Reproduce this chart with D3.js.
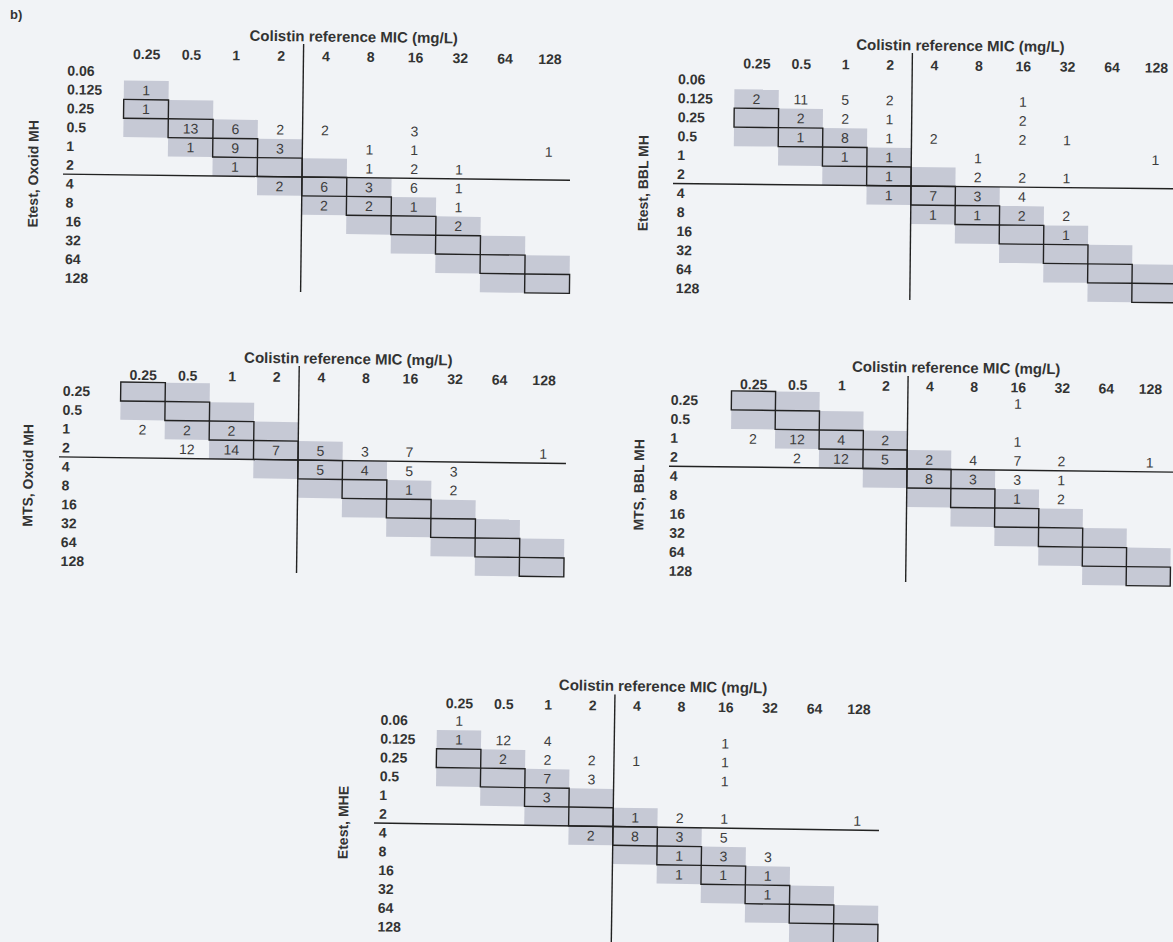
<!DOCTYPE html>
<html><head><meta charset="utf-8">
<script src="https://cdn.jsdelivr.net/npm/d3@7"></script>
<style>
html,body{margin:0;padding:0;background:#f1f3f6;}
svg{display:block;}
text{font-family:"Liberation Sans",Arial,Helvetica,sans-serif;}
</style></head><body>
<svg id="chart" width="1173" height="942"></svg>
<script>
// ---------- data ----------
const colLabels = ["0.25","0.5","1","2","4","8","16","32","64","128"];
const etestRows = ["0.06","0.125","0.25","0.5","1","2","4","8","16","32","64","128"];
const mtsRows   = ["0.25","0.5","1","2","4","8","16","32","64","128"];
const xTitle = "Colistin reference MIC (mg/L)";
const figureLabel = "b)";
const panelTitles = ["Etest, Oxoid MH","Etest, BBL MH","MTS, Oxoid MH","MTS, BBL MH","Etest, MHE"];

// [test MIC (row), reference MIC (column), number of isolates]
const etestOxoidMH = [
 ["0.125","0.25",1],["0.25","0.25",1],
 ["0.5","0.5",13],["0.5","1",6],["0.5","2",2],["0.5","4",2],["0.5","16",3],
 ["1","0.5",1],["1","1",9],["1","2",3],["1","8",1],["1","16",1],["1","128",1],
 ["2","1",1],["2","8",1],["2","16",2],["2","32",1],
 ["4","2",2],["4","4",6],["4","8",3],["4","16",6],["4","32",1],
 ["8","4",2],["8","8",2],["8","16",1],["8","32",1],
 ["16","32",2]
];
const etestBBLMH = [
 ["0.125","0.25",2],["0.125","0.5",11],["0.125","1",5],["0.125","2",2],["0.125","16",1],
 ["0.25","0.5",2],["0.25","1",2],["0.25","2",1],["0.25","16",2],
 ["0.5","0.5",1],["0.5","1",8],["0.5","2",1],["0.5","4",2],["0.5","16",2],["0.5","32",1],
 ["1","1",1],["1","2",1],["1","8",1],["1","128",1],
 ["2","2",1],["2","8",2],["2","16",2],["2","32",1],
 ["4","2",1],["4","4",7],["4","8",3],["4","16",4],
 ["8","4",1],["8","8",1],["8","16",2],["8","32",2],
 ["16","32",1]
];
const mtsOxoidMH = [
 ["1","0.25",2],["1","0.5",2],["1","1",2],
 ["2","0.5",12],["2","1",14],["2","2",7],["2","4",5],["2","8",3],["2","16",7],["2","128",1],
 ["4","4",5],["4","8",4],["4","16",5],["4","32",3],
 ["8","16",1],["8","32",2]
];
const mtsBBLMH = [
 ["0.25","16",1],
 ["1","0.25",2],["1","0.5",12],["1","1",4],["1","2",2],["1","16",1],
 ["2","0.5",2],["2","1",12],["2","2",5],["2","4",2],["2","8",4],["2","16",7],["2","32",2],["2","128",1],
 ["4","4",8],["4","8",3],["4","16",3],["4","32",1],
 ["8","16",1],["8","32",2]
];
const etestMHE = [
 ["0.06","0.25",1],
 ["0.125","0.25",1],["0.125","0.5",12],["0.125","1",4],["0.125","16",1],
 ["0.25","0.5",2],["0.25","1",2],["0.25","2",2],["0.25","4",1],["0.25","16",1],
 ["0.5","1",7],["0.5","2",3],["0.5","16",1],
 ["1","1",3],
 ["2","4",1],["2","8",2],["2","16",1],["2","128",1],
 ["4","2",2],["4","4",8],["4","8",3],["4","16",5],
 ["8","8",1],["8","16",3],["8","32",3],
 ["16","8",1],["16","16",1],["16","32",1],
 ["32","32",1]
];

// ---------- layout ----------
const layout = [
 {rows:etestRows, data:etestOxoidMH, ox:302, oy:177,   w:44.8,  h:18.85, rot:0.7,  tDx:50, tDy:-141, cDy:-121, rDx:-236, vT:-133, vB:115, hL:-239, hR:268, yDx:-269},
 {rows:etestRows, data:etestBBLMH,   ox:911, oy:186,   w:44.4,  h:19.0,  rot:0.6,  tDx:48, tDy:-141, cDy:-121, rDx:-234, vT:-133, vB:114, hL:-238, hR:300, yDx:-268},
 {rows:mtsRows,   data:mtsOxoidMH,   ox:298, oy:460,   w:44.55, h:18.9,  rot:0.75, tDx:49, tDy:-102, cDy:-83,  rDx:-236, vT:-94,  vB:113, hL:-239, hR:268, yDx:-270},
 {rows:mtsRows,   data:mtsBBLMH,     ox:907, oy:469,   w:44.1,  h:19.0,  rot:0.68, tDx:48, tDy:-102, cDy:-83,  rDx:-237, vT:-93,  vB:113, hL:-238, hR:300, yDx:-268},
 {rows:etestRows, data:etestMHE,     ox:613, oy:826.5, w:44.4,  h:18.8,  rot:0.85, tDx:48, tDy:-141, cDy:-121, rDx:-234, vT:-132, vB:140, hL:-239, hR:266, yDx:-270}
];

const SHADE = "#c6c9d5", INK = "#222", LABEL = "#333", CELLTXT = "#3c3c3c";

const svg = d3.select("#chart");
svg.append("rect").attr("width",1173).attr("height",942).attr("fill","#f1f3f6");

svg.append("text").attr("x",10).attr("y",19)
  .attr("font-size",13).attr("font-weight","bold").attr("fill",LABEL)
  .text(figureLabel);

layout.forEach((p, pi) => {
  const g = svg.append("g")
    .attr("transform", `translate(${p.ox},${p.oy}) rotate(${p.rot})`);

  const split = p.rows.indexOf("4");
  const x = d3.scaleBand().domain(colLabels).range([-4*p.w, 6*p.w]);
  const y = d3.scaleBand().domain(p.rows).range([-split*p.h, (p.rows.length-split)*p.h]);

  // essential agreement shading (+/- one dilution)
  const shade = [];
  colLabels.forEach(c => {
    const r = p.rows.indexOf(c);
    if (r < 0) return;
    [r-1, r, r+1].forEach(k => { if (k >= 0 && k < p.rows.length) shade.push([p.rows[k], c]); });
  });
  g.selectAll("rect.shade").data(shade).join("rect").attr("class","shade")
    .attr("x", d => x(d[1])).attr("y", d => y(d[0]))
    .attr("width", x.bandwidth()).attr("height", y.bandwidth())
    .attr("fill", SHADE);

  // breakpoint lines
  g.append("line").attr("x1",0).attr("x2",0).attr("y1",p.vT).attr("y2",p.vB)
    .attr("stroke",INK).attr("stroke-width",1.4);
  g.append("line").attr("x1",p.hL).attr("x2",p.hR).attr("y1",0).attr("y2",0)
    .attr("stroke",INK).attr("stroke-width",1.4);

  // exact agreement boxes
  const diag = colLabels.filter(c => p.rows.includes(c));
  g.selectAll("rect.diag").data(diag).join("rect").attr("class","diag")
    .attr("x", d => x(d)).attr("y", d => y(d))
    .attr("width", x.bandwidth()).attr("height", y.bandwidth())
    .attr("fill","none").attr("stroke",INK).attr("stroke-width",1.4);

  // counts
  g.selectAll("text.cnt").data(p.data).join("text").attr("class","cnt")
    .attr("x", d => x(d[1]) + x.bandwidth()/2)
    .attr("y", d => y(d[0]) + y.bandwidth()/2)
    .attr("dy","0.36em").attr("text-anchor","middle")
    .attr("font-size",14).attr("fill",CELLTXT)
    .text(d => d[2]);

  // column axis (reference MIC)
  const ax = g.append("g").attr("transform",`translate(0,${p.cDy})`)
    .call(d3.axisTop(x).tickSize(0).tickPadding(0));
  ax.select(".domain").remove();
  ax.selectAll("text").attr("y",0).attr("dy","0.36em")
    .attr("font-size",14).attr("font-weight","bold").attr("fill",LABEL)
    .attr("font-family","Liberation Sans, Arial, sans-serif");

  // row axis (test MIC)
  const ay = g.append("g").call(d3.axisLeft(y).tickSize(0).tickPadding(0));
  ay.select(".domain").remove();
  ay.selectAll("text").attr("x",p.rDx).attr("dy","0.36em").attr("text-anchor","start")
    .attr("font-size",14).attr("font-weight","bold").attr("fill",LABEL)
    .attr("font-family","Liberation Sans, Arial, sans-serif");

  // titles
  g.append("text").attr("x",p.tDx).attr("y",p.tDy).attr("dy","0.36em")
    .attr("text-anchor","middle").attr("font-size",15).attr("font-weight","bold")
    .attr("fill",LABEL).text(xTitle);

  const yc = (y.range()[0] + y.range()[1]) / 2;
  g.append("text").attr("transform",`translate(${p.yDx},${yc}) rotate(-90)`)
    .attr("dy","0.36em").attr("text-anchor","middle")
    .attr("font-size",14).attr("font-weight","bold").attr("fill",LABEL)
    .text(panelTitles[pi]);
});
</script>
</body></html>
